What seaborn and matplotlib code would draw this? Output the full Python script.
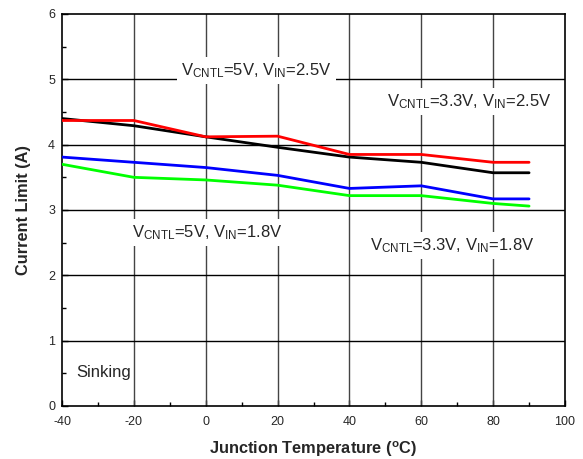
import matplotlib
matplotlib.use("Agg")
import matplotlib.pyplot as plt
import seaborn as sns
import pandas as pd
from matplotlib.ticker import MultipleLocator

temps = [-40, -20, 0, 20, 40, 60, 80, 90]
red_5v_25 = [4.37, 4.37, 4.12, 4.13, 3.85, 3.85, 3.73, 3.73]
black_33v_25 = [4.40, 4.29, 4.12, 3.96, 3.81, 3.73, 3.57, 3.57]
blue_5v_18 = [3.81, 3.73, 3.65, 3.53, 3.33, 3.37, 3.17, 3.17]
green_33v_18 = [3.70, 3.50, 3.46, 3.38, 3.22, 3.22, 3.10, 3.06]
series_names = ["5V/2.5V", "3.3V/2.5V", "5V/1.8V", "3.3V/1.8V"]
series_colors = ["#ff0000", "#000000", "#0000ff", "#00ff00"]

rows = []
for name, vals in zip(series_names, [red_5v_25, black_33v_25, blue_5v_18, green_33v_18]):
    for t, v in zip(temps, vals):
        rows.append({"T": t, "I": v, "s": name})
df = pd.DataFrame(rows)

sns.set_theme(style="white")
plt.rcParams['font.family'] = ['Liberation Sans', 'DejaVu Sans']
plt.rcParams['mathtext.fontset'] = 'custom'
plt.rcParams['mathtext.rm'] = 'Liberation Sans'
plt.rcParams['mathtext.it'] = 'Liberation Sans:italic'
plt.rcParams['mathtext.bf'] = 'Liberation Sans:bold'
plt.rcParams['axes.unicode_minus'] = False

fig = plt.figure(figsize=(5.83, 4.59), dpi=100)
ax = fig.add_axes([62/583, 53/459, (565-62)/583, (406-14)/459])

for x in range(-20, 100, 20):
    ax.axvline(x, color="#444444", lw=1.0, zorder=1)
for y in range(1, 6):
    ax.axhline(y, color="#000000", lw=1.0, zorder=1)

order = ["3.3V/2.5V", "5V/2.5V", "5V/1.8V", "3.3V/1.8V"]
sns.lineplot(data=df, x="T", y="I", hue="s", hue_order=order,
             palette=dict(zip(series_names, series_colors)),
             linewidth=2.0, legend=False, ax=ax, zorder=3)

ax.set_xlim(-40, 100)
ax.set_ylim(0, 6)
ax.xaxis.set_major_locator(MultipleLocator(20))
ax.xaxis.set_minor_locator(MultipleLocator(10))
ax.yaxis.set_major_locator(MultipleLocator(1))
ax.yaxis.set_minor_locator(MultipleLocator(0.5))
ax.tick_params(which="both", direction="in", color="black", labelsize=9,
               bottom=True, left=True, top=False, right=False)
ax.tick_params(axis="x", which="major", pad=7.5)
ax.tick_params(axis="y", which="major", pad=5)
ax.tick_params(which="major", length=4, width=1)
ax.tick_params(which="minor", length=3, width=1)
for sp in ax.spines.values():
    sp.set_color("black")
    sp.set_linewidth(1.2)

ax.set_xlabel(r"Junction Temperature ($^{\mathbf{o}}$C)", fontsize=11.8, fontweight="bold", labelpad=8)
ax.set_ylabel("Current Limit (A)", fontsize=11.8, fontweight="bold", labelpad=12)

box = dict(facecolor="white", edgecolor="none", pad=3)
ax.text(14.2, 5.14, r"V$_{\rm CNTL}$=5V, V$_{\rm IN}$=2.5V", fontsize=12, ha="center", va="center", bbox=box, zorder=2)
ax.text(73.3, 4.66, r"V$_{\rm CNTL}$=3.3V, V$_{\rm IN}$=2.5V", fontsize=12, ha="center", va="center", bbox=box, zorder=2)
ax.text(0.4, 2.65, r"V$_{\rm CNTL}$=5V, V$_{\rm IN}$=1.8V", fontsize=12, ha="center", va="center", bbox=box, zorder=2)
ax.text(68.5, 2.46, r"V$_{\rm CNTL}$=3.3V, V$_{\rm IN}$=1.8V", fontsize=12, ha="center", va="center", bbox=box, zorder=2)
ax.text(-28.3, 0.52, "Sinking", fontsize=12, ha="center", va="center", zorder=2)

fig.savefig("out.png", dpi=100)
